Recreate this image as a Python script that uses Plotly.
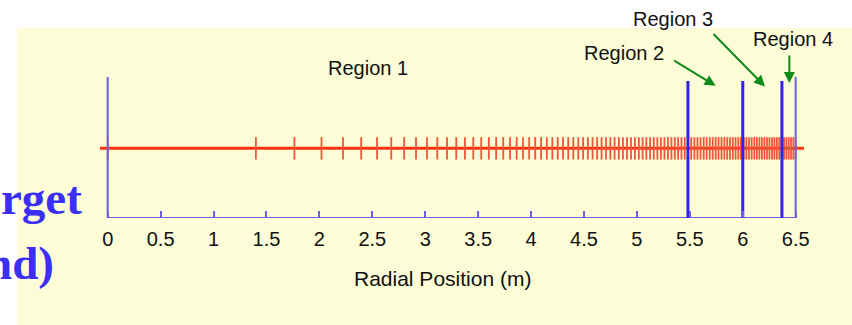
import plotly.graph_objects as go

# ---- data ----
nodes = [0.0, 1.400, 1.764, 2.020, 2.223, 2.395, 2.545, 2.679, 2.801, 2.913, 3.017,
         3.114, 3.206, 3.293, 3.375, 3.454, 3.529, 3.601, 3.670, 3.737, 3.801,
         3.864, 3.924, 3.982, 4.039, 4.095, 4.149, 4.201, 4.252, 4.302, 4.351,
         4.399, 4.446, 4.492, 4.537, 4.581, 4.624, 4.666, 4.708, 4.749, 4.789,
         4.829, 4.868, 4.906, 4.944, 4.981, 5.018, 5.054, 5.089, 5.124, 5.159,
         5.193, 5.227, 5.260, 5.293, 5.326, 5.358, 5.389, 5.421, 5.452, 5.482,
         5.513, 5.543, 5.572, 5.601, 5.631, 5.659, 5.688, 5.716, 5.744, 5.771,
         5.799, 5.826, 5.853, 5.879, 5.906, 5.932, 5.958, 5.983, 6.009, 6.034,
         6.059, 6.084, 6.109, 6.133, 6.157, 6.181, 6.205, 6.229, 6.252, 6.276,
         6.299, 6.322, 6.345, 6.367, 6.390, 6.412, 6.434, 6.456, 6.478, 6.500]
region_boundaries = [5.482, 6.0, 6.37]
domain_edges = [0.0, 6.5]
tick_values = [0, 0.5, 1, 1.5, 2, 2.5, 3, 3.5, 4, 4.5, 5, 5.5, 6, 6.5]
tick_labels = ["0", "0.5", "1", "1.5", "2", "2.5", "3", "3.5", "4", "4.5", "5", "5.5", "6", "6.5"]
red_line_extent = [-0.073, 6.578]
region_labels = ["Region 1", "Region 2", "Region 3", "Region 4"]
region_label_x = [2.46, 4.878, 5.34, 6.474]
region_label_y = [1.157, 1.373, 1.863, 1.575]
arrow_head_x = [5.744, 6.21, 6.44]
arrow_head_y = [0.898, 0.888, 0.937]
arrow_dx = [-43, -53, 0]
arrow_dy = [-26, -54, -29]

RED = "#ff3311"
BLUE = "#3322ee"
LBLUE = "#6a60e4"
GREEN = "#108a18"

fig = go.Figure()

# red mesh line
fig.add_trace(go.Scatter(x=red_line_extent, y=[0, 0], mode="lines",
                         line=dict(color=RED, width=3), hoverinfo="skip"))
fig.add_trace(go.Scatter(x=nodes, y=[0] * len(nodes), mode="markers",
                         marker=dict(symbol="line-ns-open", size=16,
                                     line=dict(color=RED, width=1.8)),
                         hoverinfo="skip"))

# axis frame: bottom line and thin edges
fig.add_trace(go.Scatter(x=[domain_edges[0], domain_edges[1]], y=[-1, -1], mode="lines",
                         line=dict(color=LBLUE, width=2), hoverinfo="skip"))
ex, ey = [], []
for e in domain_edges:
    ex += [e, e, None]
    ey += [-1, 1.024, None]
fig.add_trace(go.Scatter(x=ex, y=ey, mode="lines",
                         line=dict(color=LBLUE, width=2), hoverinfo="skip"))

# thick region boundaries
bx, by = [], []
for b in region_boundaries:
    bx += [b, b, None]
    by += [-1, 0.967, None]
fig.add_trace(go.Scatter(x=bx, y=by, mode="lines",
                         line=dict(color=BLUE, width=3), hoverinfo="skip"))

annotations = []
for t, x, y in zip(region_labels, region_label_x, region_label_y):
    annotations.append(dict(x=x, y=y, xref="x", yref="y", text=t, showarrow=False,
                            font=dict(family="Liberation Sans", size=20, color="#111111"),
                            xanchor="center", yanchor="middle"))
for x, y, dx, dy in zip(arrow_head_x, arrow_head_y, arrow_dx, arrow_dy):
    annotations.append(dict(x=x, y=y, xref="x", yref="y", text="", showarrow=True,
                            ax=dx, ay=dy, arrowhead=2, arrowsize=1.1, arrowwidth=2,
                            arrowcolor=GREEN))
annotations.append(dict(x=442 / 852, y=-0.277, xref="paper", yref="paper",
                        text="Radial Position (m)", showarrow=False,
                        font=dict(family="Liberation Sans", size=21, color="#111111"),
                        xanchor="center", yanchor="middle"))
annotations.append(dict(x=84 / 852, y=(217.7 - 198) / 217.7, xref="paper", yref="paper",
                        text="<b>rget</b>", showarrow=False,
                        font=dict(family="Liberation Serif", size=47, color="#3b2ff5"),
                        xanchor="right", yanchor="middle"))
annotations.append(dict(x=56 / 852, y=(217.7 - 263) / 217.7, xref="paper", yref="paper",
                        text="<b>nd)</b>", showarrow=False,
                        font=dict(family="Liberation Serif", size=47, color="#3b2ff5"),
                        xanchor="right", yanchor="middle"))

fig.update_layout(
    width=852, height=325,
    margin=dict(l=0, r=0, t=0, b=107),
    paper_bgcolor="white",
    plot_bgcolor="rgba(0,0,0,0)",
    showlegend=False,
    shapes=[dict(type="rect", xref="paper", yref="paper", layer="below",
                 x0=17 / 852, x1=1.01, y0=-0.6, y1=(217.7 - 28) / 217.7,
                 fillcolor="#fcfcd6", line=dict(width=0))],
    annotations=annotations,
    xaxis=dict(range=[-1.0175, 7.032], showgrid=False, zeroline=False, showline=False,
               tickmode="array", tickvals=tick_values, ticktext=tick_labels,
               ticks="inside", ticklen=7, tickwidth=2, tickcolor=LBLUE,
               ticklabelstandoff=7,
               tickfont=dict(family="Liberation Sans", size=20, color="#111111"),
               fixedrange=True),
    yaxis=dict(range=[-1, 2.13], showgrid=False, zeroline=False, showline=False,
               showticklabels=False, ticks="", fixedrange=True),
)

fig.write_html("out.html")
